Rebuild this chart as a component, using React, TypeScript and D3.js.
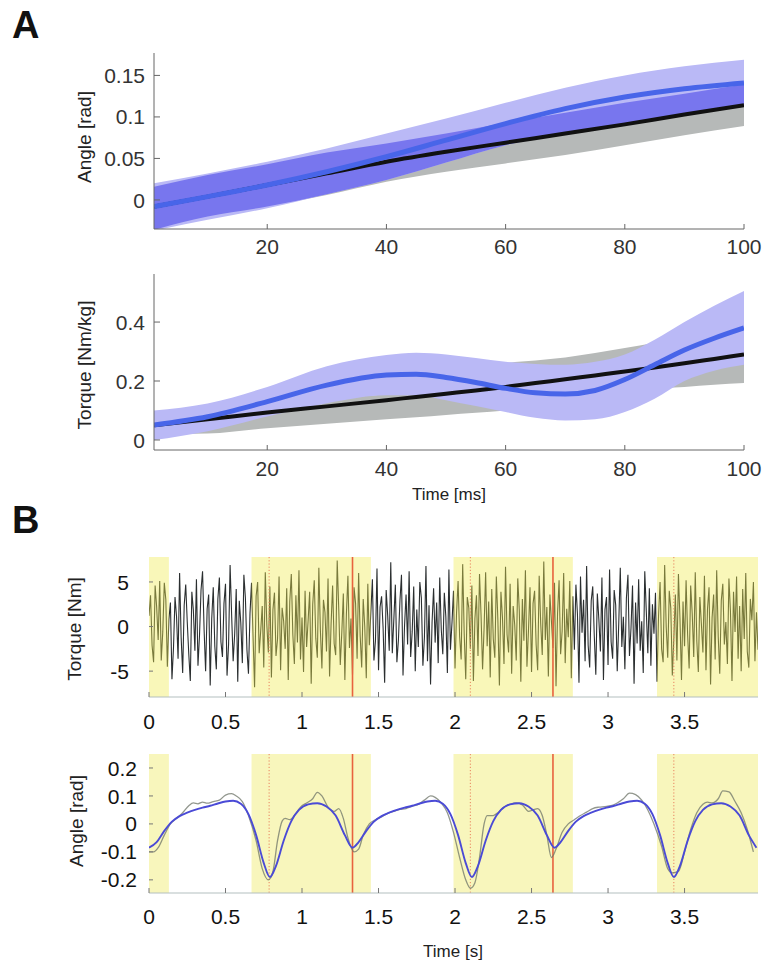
import React from 'react';
import * as d3 from 'd3';

// ---------- Panel A data ----------
const angleX = [1, 10, 20, 30, 40, 50, 60, 70, 80, 90, 100];
const angleModel = [-0.008, 0.004, 0.018, 0.034, 0.052, 0.072, 0.092, 0.11, 0.124, 0.134, 0.141];
const angleModelHi = [0.02, 0.032, 0.046, 0.062, 0.08, 0.098, 0.117, 0.135, 0.15, 0.161, 0.169];
const angleModelLo = [-0.037, -0.024, -0.01, 0.007, 0.024, 0.045, 0.066, 0.08, 0.092, 0.104, 0.114];
const angleSubject = [-0.008, 0.004, 0.018, 0.032, 0.046, 0.058, 0.069, 0.08, 0.091, 0.103, 0.114];
const angleSubjectHi = [0.016, 0.03, 0.043, 0.057, 0.068, 0.08, 0.093, 0.105, 0.117, 0.128, 0.139];
const angleSubjectLo = [-0.036, -0.02, -0.008, 0.006, 0.022, 0.034, 0.044, 0.054, 0.066, 0.078, 0.089];

const torqueX = [1, 10, 20, 30, 40, 45, 50, 55, 60, 65, 70, 75, 80, 85, 90, 95, 100];
const torqueModel = [0.051, 0.079, 0.13, 0.186, 0.22, 0.223, 0.212, 0.195, 0.175, 0.16, 0.156, 0.168, 0.205, 0.255, 0.305, 0.345, 0.38];
const torqueModelHi = [0.1, 0.124, 0.18, 0.25, 0.288, 0.296, 0.29, 0.278, 0.265, 0.258, 0.255, 0.265, 0.29, 0.34, 0.4, 0.455, 0.505];
const torqueModelLo = [0.0, 0.03, 0.08, 0.125, 0.152, 0.152, 0.135, 0.115, 0.095, 0.075, 0.066, 0.07, 0.095, 0.14, 0.2, 0.235, 0.255];
const torqueSubject = [0.05, 0.07, 0.093, 0.114, 0.135, 0.146, 0.157, 0.168, 0.18, 0.193, 0.206, 0.219, 0.232, 0.246, 0.26, 0.275, 0.29];
const torqueSubjectHi = [0.08, 0.1, 0.12, 0.138, 0.155, 0.163, 0.19, 0.23, 0.26, 0.27, 0.28, 0.295, 0.312, 0.33, 0.35, 0.37, 0.38];
const torqueSubjectLo = [0.02, 0.022, 0.04, 0.055, 0.07, 0.077, 0.085, 0.092, 0.1, 0.115, 0.135, 0.155, 0.17, 0.175, 0.18, 0.187, 0.193];

const angleTicksA = [0, 0.05, 0.1, 0.15];
const angleTickLabelsA = ['0', '0.05', '0.1', '0.15'];
const torqueTicksA = [0, 0.2, 0.4];
const torqueTickLabelsA = ['0', '0.2', '0.4'];
const msTicks = [20, 40, 60, 80, 100];

// ---------- Panel B data ----------
const sampleStep = 0.01;
const torqueNm = [
  1.2, 3.5, -2.1, -4.0, 4.6, 2.2, -1.5, 5.1, -3.8, -0.6,
  4.9, 3.0, -4.5, 0.8, 2.7, -5.9, -2.4, 3.3, 1.1, -3.6,
  6.0, -1.2, -5.2, 2.4, 4.7, 0.5, -3.1, -6.1, 3.9, 1.8,
  -2.7, 5.3, -4.4, -1.0, 4.1, 6.2, -0.3, -5.0, 2.0, 3.6,
  -6.6, 0.9, 4.4, -2.2, -4.8, 3.1, 5.5, -1.7, -3.4, 2.6,
  4.8, -5.5, -2.0, 6.9, 1.3, -3.9, -0.8, 4.2, -6.2, 2.9,
  0.4, -4.1, 5.8, 3.2, -2.6, -5.3, 1.5, 4.9, -1.1, -6.8,
  3.4, 5.0, -3.0, -0.5, 2.3, -4.6, 6.1, 0.2, -2.9, 4.5,
  -5.7, 1.9, 3.8, -3.3, -1.4, 5.6, -4.9, 2.1, 0.6, -2.5,
  4.3, -6.0, 2.8, 5.9, -0.9, -4.2, 3.5, -1.8, 6.3, -3.7,
  1.0, -5.1, 4.0, -2.3, 0.7, 3.9, -6.4, 2.5, 5.2, -1.3,
  -3.5, 6.6, -0.4, -4.7, 3.0, 1.6, -2.8, 5.4, -5.6, 0.3,
  4.6, -1.9, -3.2, 7.4, 2.0, -4.3, -0.7, 3.7, -6.0, 1.4,
  5.7, -2.4, 0.9, -5.4, 4.4, 2.6, -3.6, 6.0, -1.0, -4.6,
  3.1, 0.0, -5.8, 4.8, -2.1, 1.7, 5.3, -3.8, -1.6, 6.5,
  -4.9, 2.2, 3.4, -0.2, -6.3, 4.1, 1.2, -2.7, 7.2, -3.0,
  0.8, 4.7, -4.0, -1.5, 2.9, 5.8, -5.5, 0.1, 3.6, -2.0,
  6.2, -3.4, -0.6, 4.5, -5.0, 1.9, -2.3, 5.0, 3.2, -4.4,
  -1.2, 6.8, -3.9, 2.4, -6.5, 0.5, 4.3, -1.8, 2.7, -4.1,
  5.5, -0.3, -3.1, 3.8, 1.1, -5.2, 6.4, -2.6, 0.4, 4.0,
  -4.7, 1.6, 5.1, -1.1, -3.7, 7.0, -0.8, -5.9, 3.3, 2.1,
  -2.5, 4.6, -6.1, 0.9, 3.5, -3.3, 5.9, 1.3, -4.8, -0.1,
  6.1, -2.2, 2.8, -5.7, 4.2, -1.4, -3.5, 5.6, 0.7, -6.6,
  3.9, 1.0, -4.2, 6.7, -0.9, -2.9, 4.8, -5.3, 2.3, 0.2,
  -3.8, 5.4, 1.8, -6.2, 3.1, -1.6, 6.3, -4.5, -0.4, 4.4,
  -5.1, 2.6, 4.0, -2.0, -4.9, 5.7, 0.3, -3.2, 7.3, -1.5,
  2.2, -5.6, 3.6, 0.6, -2.4, 4.9, -6.7, 1.5, 5.2, -3.1,
  -0.5, 6.0, -4.1, 2.0, -1.2, 5.1, -5.8, 3.4, -2.6, 4.7,
  1.4, -6.3, 5.6, -0.7, 3.0, -3.9, 6.8, -2.1, -4.6, 2.9,
  4.5, -1.0, -5.4, 3.7, 0.8, -2.8, 5.5, -6.0, 1.9, 3.3,
  -4.3, 6.4, -1.7, -3.6, 4.1, 2.4, -5.0, 0.4, 6.6, -2.3,
  1.1, -4.8, 3.2, 5.8, -3.3, -0.2, 4.6, -6.4, 2.7, -1.9,
  5.3, -2.7, 0.6, -5.2, 6.2, 1.7, -3.0, 4.3, -4.4, 2.5,
  -0.8, 3.8, -6.2, 1.2, 5.0, -2.5, -4.0, 6.9, 0.0, -3.5,
  4.0, 2.1, -5.5, -1.3, 3.6, -3.8, 5.9, 0.9, -6.0, 2.8,
  -2.2, 5.2, -0.9, -4.7, 4.6, 1.5, -3.4, 6.1, -1.6, -5.1,
  3.3, 0.3, -2.9, 5.7, -4.9, 2.0, 4.4, -6.5, 1.0, 3.6,
  -3.7, 6.3, -1.1, -5.3, 2.9, 4.8, -2.0, 0.5, -4.2, 5.4,
  1.7, -6.1, 3.9, -0.6, 5.6, -3.6, 2.3, -5.0, 4.2, -1.4,
  6.0, -2.8, -4.6, 3.1, 0.7, 5.0, -3.9, 1.6, -2.6, -0.2,
];

const modelTime = [
  0.0, 0.05, 0.1, 0.15, 0.2, 0.25, 0.3, 0.35, 0.4, 0.45, 0.5, 0.55, 0.6, 0.65, 0.7, 0.75, 0.79, 0.83, 0.88, 0.93, 0.98, 1.04, 1.1, 1.16, 1.22, 1.28, 1.33,
  1.37, 1.42, 1.47, 1.52, 1.57, 1.62, 1.67, 1.72, 1.77, 1.82, 1.87, 1.92, 1.97, 2.02, 2.07, 2.11, 2.15, 2.2, 2.25, 2.3, 2.36, 2.42, 2.48, 2.54, 2.6, 2.65,
  2.69, 2.74, 2.79, 2.84, 2.89, 2.94, 2.99, 3.04, 3.09, 3.14, 3.19, 3.24, 3.29, 3.34, 3.39, 3.43, 3.47, 3.52, 3.57, 3.62, 3.68, 3.74, 3.8, 3.86, 3.92, 3.97,
];
const modelAngle = [
  -0.085, -0.065, -0.025, 0.008, 0.028, 0.04, 0.05, 0.058, 0.065, 0.073, 0.08, 0.083, 0.072, 0.035, -0.04, -0.14, -0.19, -0.15, -0.06, 0.01, 0.05, 0.07, 0.074, 0.062, 0.03, -0.04, -0.085,
  -0.065, -0.025, 0.008, 0.028, 0.04, 0.05, 0.058, 0.065, 0.073, 0.08, 0.083, 0.072, 0.035, -0.04, -0.14, -0.19, -0.15, -0.06, 0.01, 0.05, 0.07, 0.074, 0.062, 0.03, -0.04, -0.085,
  -0.065, -0.025, 0.008, 0.028, 0.04, 0.05, 0.058, 0.065, 0.073, 0.08, 0.083, 0.072, 0.035, -0.04, -0.14, -0.19, -0.15, -0.06, 0.01, 0.05, 0.07, 0.074, 0.062, 0.03, -0.04, -0.085,
];

const measTime = [
  0.0, 0.03, 0.06, 0.1, 0.14, 0.18, 0.22, 0.26, 0.29, 0.32, 0.35, 0.38, 0.42, 0.46, 0.5, 0.54, 0.57, 0.61, 0.65, 0.7, 0.74, 0.78, 0.81, 0.84, 0.87, 0.89, 0.92, 0.95, 0.99, 1.03, 1.07, 1.1, 1.13, 1.17, 1.21, 1.24, 1.27, 1.3, 1.34, 1.37, 1.4, 1.44,
  1.48, 1.52, 1.56, 1.6, 1.64, 1.68, 1.72, 1.76, 1.8, 1.84, 1.87, 1.91, 1.95, 1.99, 2.03, 2.07, 2.1, 2.13, 2.16, 2.19, 2.21, 2.25, 2.28, 2.32, 2.36, 2.4, 2.44, 2.48, 2.51, 2.54, 2.57, 2.6, 2.63, 2.66, 2.7, 2.74,
  2.78, 2.82, 2.86, 2.9, 2.94, 2.98, 3.02, 3.06, 3.1, 3.14, 3.18, 3.22, 3.26, 3.3, 3.35, 3.39, 3.42, 3.46, 3.5, 3.54, 3.58, 3.62, 3.65, 3.68, 3.72, 3.75, 3.79, 3.83, 3.87, 3.91, 3.95,
];
const measAngle = [
  -0.1, -0.1, -0.085, -0.04, 0.0, 0.02, 0.04, 0.065, 0.075, 0.072, 0.078, 0.074, 0.08, 0.085, 0.103, 0.108, 0.1, 0.08, 0.03, -0.06, -0.16, -0.2, -0.17, -0.06, 0.01, 0.02, 0.015, 0.03, 0.06, 0.075, 0.09, 0.113, 0.1, 0.06, 0.045, 0.055, 0.02, -0.05, -0.1, -0.09, -0.04, 0.0,
  0.015, 0.025, 0.038, 0.045, 0.052, 0.055, 0.063, 0.07, 0.085, 0.1, 0.095, 0.075, 0.04, -0.03, -0.12, -0.2, -0.23, -0.21, -0.12, 0.0, 0.03, 0.03, 0.04, 0.06, 0.07, 0.075, 0.068, 0.045, 0.05, 0.055, 0.03, -0.04, -0.12, -0.09, -0.03, 0.0,
  0.015, 0.03, 0.042, 0.055, 0.06, 0.062, 0.065, 0.075, 0.09, 0.11, 0.105, 0.085, 0.05, 0.0, -0.08, -0.16, -0.175, -0.17, -0.1, -0.02, 0.04, 0.07, 0.078, 0.075, 0.09, 0.118, 0.115, 0.08, 0.04, -0.02, -0.1,
];

const stanceStart = [0, 0.67, 1.99, 3.32];
const stanceEnd = [0.13, 1.45, 2.77, 3.98];
const solidMarks = [1.33, 2.64];
const dottedMarks = [0.785, 2.1, 3.43];

const secTicks = [0, 0.5, 1, 1.5, 2, 2.5, 3, 3.5];
const secTickLabels = ['0', '0.5', '1', '1.5', '2', '2.5', '3', '3.5'];
const torqueTicksB = [-5, 0, 5];
const torqueTickLabelsB = ['-5', '0', '5'];
const angleTicksB = [-0.2, -0.1, 0, 0.1, 0.2];
const angleTickLabelsB = ['-0.2', '-0.1', '0', '0.1', '0.2'];

const FONT = '"Liberation Sans", Arial, Helvetica, sans-serif';

export default function App() {
  // scales
  const xA = d3.scaleLinear().domain([1, 100]).range([154, 744]);
  const yA1 = d3.scaleLinear().domain([-0.035, 0.177]).range([229, 53]);
  const yA2 = d3.scaleLinear().domain([-0.034, 0.563]).range([450, 274]);
  const xB = d3.scaleLinear().domain([0, 3.98]).range([149, 758]);
  const yB1 = d3.scaleLinear().domain([-7.9, 7.8]).range([697, 557]);
  const yB2 = d3.scaleLinear().domain([-0.247, 0.25]).range([893, 754]);

  const curve = d3.curveMonotoneX;

  const band = (xs: number[], lo: number[], hi: number[], x: any, y: any) =>
    d3.area<number>().curve(curve)
      .defined((i) => hi[i] > lo[i])
      .x((i) => x(xs[i])).y0((i) => y(lo[i])).y1((i) => y(hi[i]))(xs.map((_, i) => i)) || '';
  const line = (xs: number[], ys: number[], x: any, y: any, c: any = curve) =>
    d3.line<number>().curve(c).x((i) => x(xs[i])).y((i) => y(ys[i]))(xs.map((_, i) => i)) || '';

  const interLo = angleX.map((_, i) => Math.max(angleModelLo[i], angleSubjectLo[i]));
  const interHi = angleX.map((_, i) => Math.min(angleModelHi[i], angleSubjectHi[i]));

  const torqueTime = torqueNm.map((_, i) => i * sampleStep);

  const LAV = '#bab9f6';
  const DARK = '#7876ee';
  const GRAY = '#b6b9b8';
  const BLUE = '#4865e9';

  const axisA = (y: any, yTicks: number[], yLabels: string[], bottom: number, top: number, labelY: number) => (
    <g fontFamily={FONT}>
      <line x1={154} x2={154} y1={top} y2={bottom} stroke="#666" strokeWidth={1} />
      <line x1={154} x2={744} y1={bottom} y2={bottom} stroke="#666" strokeWidth={1} />
      {yTicks.map((t, i) => (
        <g key={'y' + i}>
          <line x1={154} x2={160} y1={y(t)} y2={y(t)} stroke="#666" />
          <text x={145} y={y(t)} dy="0.36em" textAnchor="end" fontSize={21} fill="#333">{yLabels[i]}</text>
        </g>
      ))}
      {msTicks.map((t, i) => (
        <g key={'x' + i}>
          <line x1={xA(t)} x2={xA(t)} y1={bottom} y2={bottom - 5} stroke="#666" />
          <text x={xA(t)} y={labelY} textAnchor="middle" fontSize={21} fill="#333">{t}</text>
        </g>
      ))}
    </g>
  );

  const axisB = (y: any, yTicks: number[], yLabels: string[], bottom: number, labelX: number, labelY: number) => (
    <g fontFamily={FONT}>
      <line x1={149} x2={758} y1={bottom} y2={bottom} stroke="#b4bfc0" strokeWidth={1.2} />
      {yTicks.map((t, i) => (
        <g key={'y' + i}>
          <line x1={149} x2={153} y1={y(t)} y2={y(t)} stroke="#777" />
          <text x={labelX} y={y(t)} dy="0.36em" textAnchor="end" fontSize={21} fill="#111">{yLabels[i]}</text>
        </g>
      ))}
      {secTicks.map((t, i) => (
        <g key={'x' + i}>
          <line x1={xB(t)} x2={xB(t)} y1={bottom} y2={bottom - 5} stroke="#777" />
          <text x={xB(t)} y={labelY} textAnchor="middle" fontSize={21} fill="#111">{secTickLabels[i]}</text>
        </g>
      ))}
    </g>
  );

  const stanceRects = (top: number, bottom: number, fill: string, opacity: number) =>
    stanceStart.map((s, i) => (
      <rect key={'s' + i} x={xB(s)} y={top} width={xB(stanceEnd[i]) - xB(s)} height={bottom - top} fill={fill} fillOpacity={opacity} />
    ));

  const marks = (top: number, bottom: number) => (
    <g>
      {dottedMarks.map((m, i) => (
        <line key={'d' + i} x1={xB(m)} x2={xB(m)} y1={top} y2={bottom} stroke="#e9825e" strokeWidth={1} strokeDasharray="1.2,2" />
      ))}
      {solidMarks.map((m, i) => (
        <line key={'m' + i} x1={xB(m)} x2={xB(m)} y1={top} y2={bottom} stroke="#e8623e" strokeWidth={1.6} />
      ))}
    </g>
  );

  return (
    <svg width={773} height={968} style={{ position: 'absolute', left: 0, top: 0, background: '#fff' }}>
      <defs>
        <clipPath id="clipA1"><rect x={154} y={53} width={590} height={176} /></clipPath>
        <clipPath id="clipA2"><rect x={154} y={274} width={590} height={176} /></clipPath>
        <clipPath id="clipB1"><rect x={149} y={557} width={609} height={140} /></clipPath>
        <clipPath id="clipB2"><rect x={149} y={754} width={609} height={139} /></clipPath>
      </defs>
      <rect x={0} y={0} width={773} height={968} fill="#fff" />

      {/* Panel labels */}
      <text x={12} y={38} fontFamily={FONT} fontWeight="bold" fontSize={38} fill="#111">A</text>
      <text x={12} y={533} fontFamily={FONT} fontWeight="bold" fontSize={38} fill="#111">B</text>

      {/* ---------- A top: angle ---------- */}
      <g clipPath="url(#clipA1)">
        <path d={band(angleX, angleSubjectLo, angleSubjectHi, xA, yA1)} fill={GRAY} />
        <path d={band(angleX, angleModelLo, angleModelHi, xA, yA1)} fill={LAV} />
        <path d={band(angleX, interLo, interHi, xA, yA1)} fill={DARK} />
        <path d={line(angleX, angleSubject, xA, yA1)} fill="none" stroke="#111" strokeWidth={4} />
        <path d={line(angleX, angleModel, xA, yA1)} fill="none" stroke={BLUE} strokeWidth={5} />
      </g>
      {axisA(yA1, angleTicksA, angleTickLabelsA, 229, 53, 254)}
      <text transform="translate(91,137) rotate(-90)" textAnchor="middle" fontFamily={FONT} fontSize={19} fill="#222">Angle [rad]</text>

      {/* ---------- A bottom: torque ---------- */}
      <g clipPath="url(#clipA2)">
        <path d={band(torqueX, torqueSubjectLo, torqueSubjectHi, xA, yA2)} fill={GRAY} />
        <path d={band(torqueX, torqueModelLo, torqueModelHi, xA, yA2)} fill={LAV} />
        <path d={line(torqueX, torqueSubject, xA, yA2)} fill="none" stroke="#111" strokeWidth={4} />
        <path d={line(torqueX, torqueModel, xA, yA2)} fill="none" stroke={BLUE} strokeWidth={5} />
      </g>
      {axisA(yA2, torqueTicksA, torqueTickLabelsA, 450, 274, 476)}
      <text transform="translate(91,365) rotate(-90)" textAnchor="middle" fontFamily={FONT} fontSize={19} fill="#222">Torque [Nm/kg]</text>
      <text x={449} y={500} textAnchor="middle" fontFamily={FONT} fontSize={17} fill="#222">Time [ms]</text>

      {/* ---------- B top: torque signal ---------- */}
      <g clipPath="url(#clipB1)">
        <path d={line(torqueTime, torqueNm, xB, yB1, d3.curveLinear)} fill="none" stroke="#2b2f30" strokeWidth={1.1} />
        {stanceRects(557, 697, '#f0ea50', 0.4)}
        {marks(557, 697)}
      </g>
      {axisB(yB1, torqueTicksB, torqueTickLabelsB, 697, 129, 729)}
      <text transform="translate(81,629) rotate(-90)" textAnchor="middle" fontFamily={FONT} fontSize={19} fill="#222">Torque [Nm]</text>

      {/* ---------- B bottom: angle signal ---------- */}
      <g clipPath="url(#clipB2)">
        {stanceRects(754, 893, '#f8f6bc', 1)}
        {marks(754, 893)}
        <path d={line(measTime, measAngle, xB, yB2)} fill="none" stroke="#6e7468" strokeOpacity={0.75} strokeWidth={1.3} />
        <path d={line(modelTime, modelAngle, xB, yB2)} fill="none" stroke="#4a4ad6" strokeWidth={1.9} />
      </g>
      {axisB(yB2, angleTicksB, angleTickLabelsB, 893, 137, 924)}
      <text transform="translate(83,821) rotate(-90)" textAnchor="middle" fontFamily={FONT} fontSize={19} fill="#222">Angle [rad]</text>
      <text x={453} y={957} textAnchor="middle" fontFamily={FONT} fontSize={17} fill="#222">Time [s]</text>
    </svg>
  );
}
